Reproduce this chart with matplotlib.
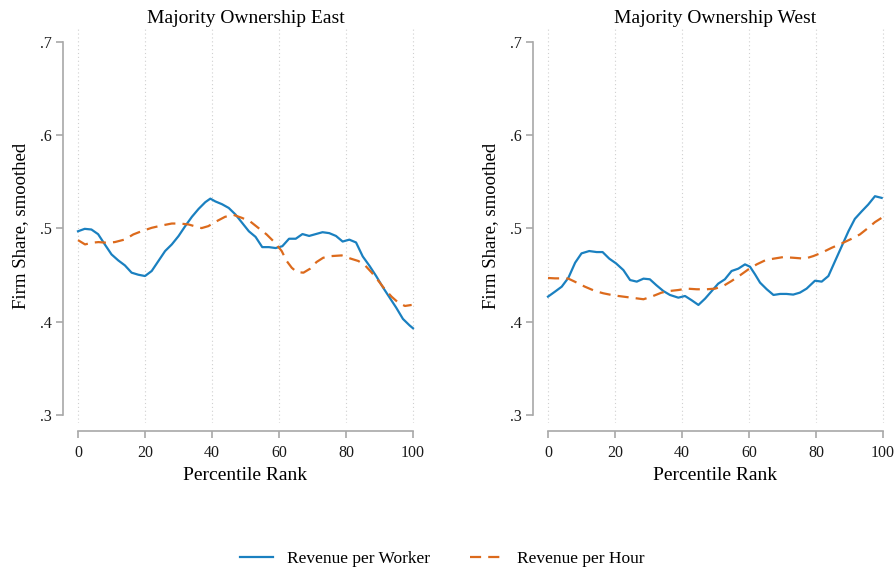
import matplotlib.pyplot as plt

plt.rcParams['font.family'] = ['Liberation Serif', 'DejaVu Serif']

# percentile rank and smoothed firm share
east_worker_x = [0, 2, 4, 6, 8, 10, 12, 14, 16, 18, 20, 22, 24, 26, 28, 30, 32, 34, 36, 38,
                 39.5, 41, 43, 45, 47, 49, 51, 53, 55, 57, 59, 61, 63, 65, 67, 69, 71, 73,
                 75, 77, 79, 81, 83, 85, 87, 89, 91, 93, 95, 97, 99, 100]
east_worker_y = [.497, .4996, .4989, .4939, .4829, .4722, .4658, .4604, .4526, .4504, .4490,
                 .4544, .4651, .4758, .4829, .4918, .5025, .5125, .5210, .5282, .532, .529,
                 .526, .522, .515, .506, .497, .491, .480, .480, .479, .481, .489, .489, .494,
                 .492, .494, .496, .495, .492, .486, .488, .485, .470, .460, .449, .437, .426,
                 .415, .403, .396, .393]

east_hour_x = [0, 2.1, 4.1, 6.1, 8.6, 11, 14, 16.5, 19, 22, 25, 28, 30.4, 33, 35.4, 36.9, 38.9,
               41.4, 43.9, 46.4, 48.9, 51.3, 53.8, 56.3, 58.8, 60.8, 62.3, 63.8, 65.3, 67.3,
               69.3, 71.2, 73.2, 75.7, 78.7, 81.2, 83.7, 85.7, 87.7, 89.7, 91.6, 93.6, 95.6,
               97.6, 99.6]
east_hour_y = [.4875, .4829, .4847, .4854, .4847, .4854, .4882, .4936, .4971, .5007, .5032,
               .5053, .5053, .5043, .5018, .5004, .5025, .5078, .5125, .5146, .5114, .5078,
               .5007, .4936, .4847, .4758, .4651, .4579, .4533, .4526, .4569, .4640, .4686,
               .4704, .4711, .4679, .4651, .4604, .4526, .4437, .4348, .4269, .4205, .4169,
               .4180]

west_worker_x = [0, 2.1, 4.1, 6.1, 8.1, 10, 12.3, 14.5, 16.3, 18.3, 20.3, 22.5, 24.5, 26.5,
                 28.5, 30.4, 32.4, 34.4, 36.4, 38.9, 40.9, 42.9, 44.9, 46.9, 48.9, 50.8, 52.8,
                 54.8, 56.8, 58.8, 60.3, 61.8, 63.3, 65.3, 67.3, 69.3, 71.2, 73.2, 75.2, 77.2,
                 79.7, 81.7, 83.7, 85.7, 87.7, 89.7, 91.6, 93.6, 95.6, 97.6, 99.6]
west_worker_y = [.4269, .4323, .4376, .4472, .4633, .4733, .4758, .4747, .4747, .4676, .4626,
                 .4554, .4447, .4430, .4462, .4455, .4390, .4330, .4287, .4258, .4276, .4230,
                 .4180, .4248, .4330, .4408, .4455, .4544, .4569, .4615, .4590, .4508, .4419,
                 .4348, .4287, .4298, .4298, .4291, .4312, .4355, .4440, .4430, .4490, .4651,
                 .4811, .4971, .5103, .5182, .5257, .5346, .5328]

west_hour_x = [0, 2.1, 4.1, 6.1, 8.6, 11, 14, 16.5, 19.5, 22.5, 25.5, 28.5, 30.9, 33.9, 36.4,
               38.9, 41.4, 44.4, 47.4, 49.9, 52.3, 54.8, 57.3, 59.8, 62.3, 64.8, 67.3, 70.2,
               73.2, 76.7, 79.2, 81.7, 84.7, 87.7, 90.6, 93.1, 95.6, 97.6, 99.6]
west_hour_y = [.4469, .4465, .4465, .4462, .4419, .4376, .4330, .4305, .4283, .4269, .4255,
               .4241, .4269, .4312, .4330, .4340, .4355, .4348, .4348, .4355, .4383, .4437,
               .4497, .4561, .4615, .4658, .4676, .4693, .4686, .4676, .4704, .4740, .4793,
               .4840, .4889, .4936, .5007, .5068, .5114]

x_ticks = [0, 20, 40, 60, 80, 100]
y_ticks = [.3, .4, .5, .6, .7]
y_labels = ['.3', '.4', '.5', '.6', '.7']

BLUE = '#1a80c0'
ORANGE = '#dc6a1c'
GRAY = '#a8a8a8'

W, H = 896, 572
fig = plt.figure(figsize=(W / 100, H / 100), dpi=100)


def make_panel(left_px, title, worker_x, worker_y, hour_x, hour_y):
    # axes box: top at 29px, bottom at 423px, width 351px
    ax = fig.add_axes([left_px / W, 1 - 423 / H, 351 / W, 394 / H])
    ax.set_xlim(-2.39, 102.39)
    ax.set_ylim(0.2914, 0.7139)
    for x in x_ticks:
        ax.axvline(x, color='#d0d0d0', lw=0.8, ls=(0, (1, 2.5)), zorder=0)
    l1, = ax.plot(worker_x, worker_y, color=BLUE, lw=1.6)
    l2, = ax.plot(hour_x, hour_y, color=ORANGE, lw=1.6, ls=(0, (5, 3.2)))
    ax.spines['top'].set_visible(False)
    ax.spines['right'].set_visible(False)
    for s in ('left', 'bottom'):
        ax.spines[s].set_color(GRAY)
        ax.spines[s].set_linewidth(1.2)
    ax.spines['left'].set_position(('outward', 5))
    ax.spines['bottom'].set_position(('outward', 6))
    ax.spines['left'].set_bounds(.3, .7)
    ax.spines['bottom'].set_bounds(0, 100)
    ax.set_xticks(x_ticks)
    ax.set_yticks(y_ticks)
    ax.set_yticklabels(y_labels)
    ax.tick_params(axis='both', colors=GRAY, labelcolor='#1a1a1a', labelsize=11.5,
                   length=5, width=1.2)
    ax.tick_params(axis='x', pad=5)
    ax.tick_params(axis='y', pad=3)
    ax.set_title(title, fontsize=14, pad=4)
    ax.set_xlabel('Percentile Rank', fontsize=14, labelpad=4)
    ax.set_ylabel('Firm Share, smoothed', fontsize=13.5, labelpad=8)
    ax.patch.set_alpha(0)
    return l1, l2


l1, l2 = make_panel(70, 'Majority Ownership East', east_worker_x, east_worker_y,
                    east_hour_x, east_hour_y)
make_panel(540, 'Majority Ownership West', west_worker_x, west_worker_y,
           west_hour_x, west_hour_y)

fig.legend([l1, l2], ['Revenue per Worker', 'Revenue per Hour'], loc='center',
           bbox_to_anchor=(442 / W, 1 - 559 / H), ncol=2, frameon=False,
           fontsize=12.5, handlelength=1.9, columnspacing=2.3, handletextpad=0.8)

fig.savefig('out.png', dpi=100, facecolor='white')
